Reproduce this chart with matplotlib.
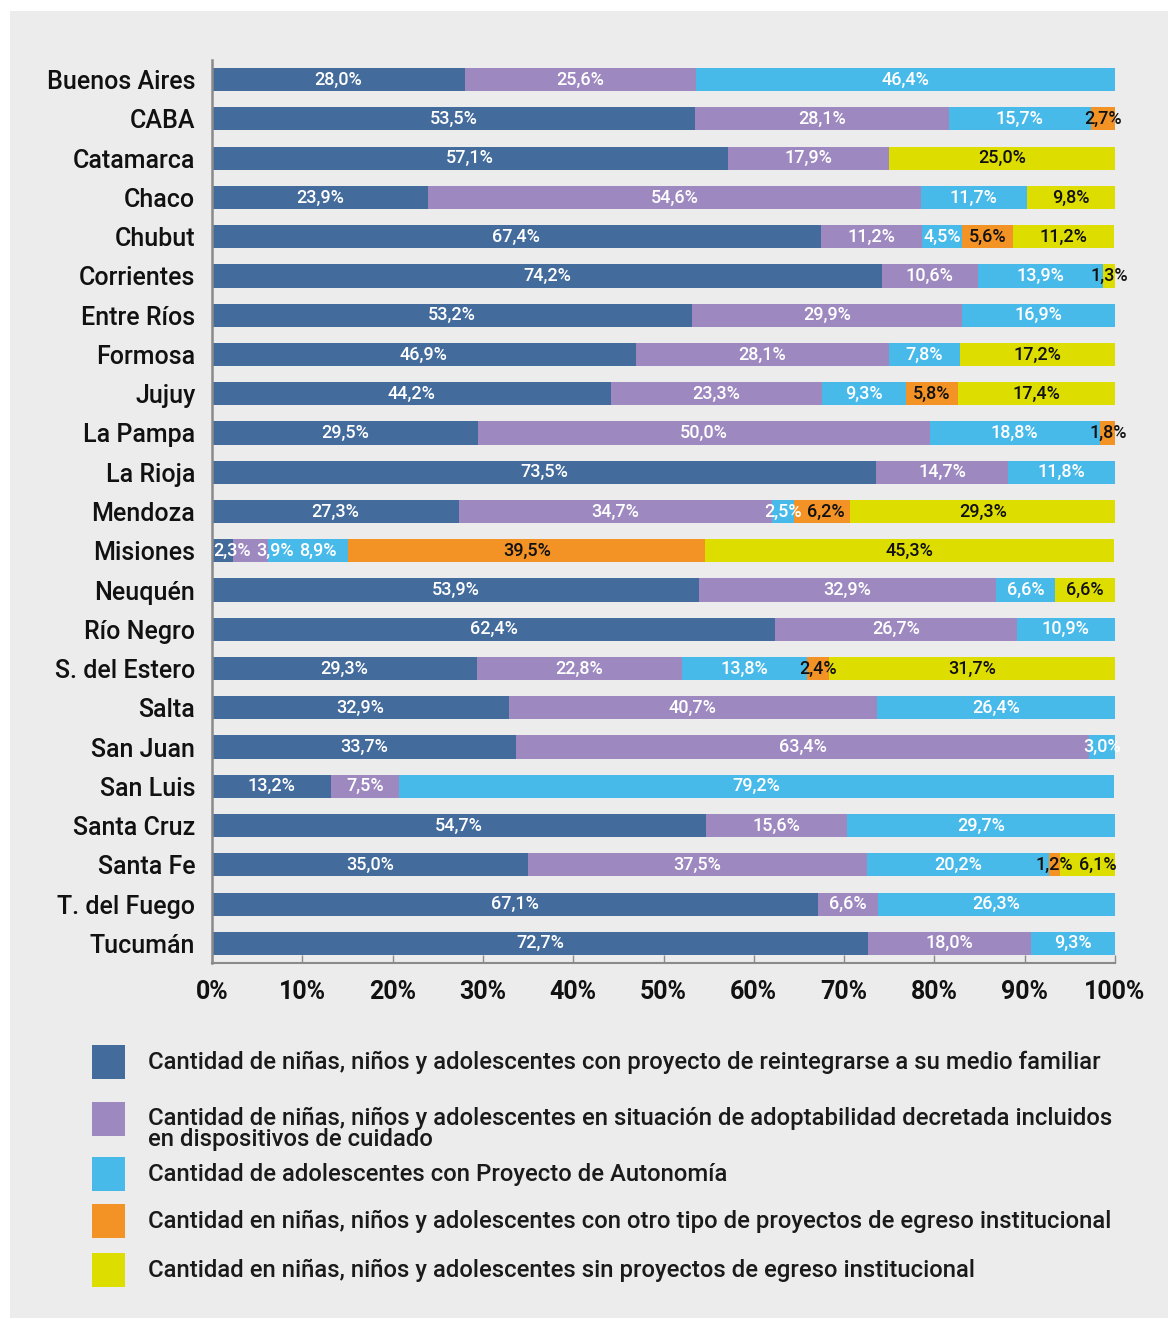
import matplotlib
matplotlib.use("Agg")
import matplotlib.pyplot as plt
import matplotlib.transforms as mtransforms
from matplotlib.patches import Rectangle
import numpy as np

plt.rcParams['font.family'] = ['Roboto', 'DejaVu Sans']

# Datos (porcentajes por provincia)
provincias = ['Buenos Aires', 'CABA', 'Catamarca', 'Chaco', 'Chubut', 'Corrientes',
              'Entre Ríos', 'Formosa', 'Jujuy', 'La Pampa', 'La Rioja', 'Mendoza',
              'Misiones', 'Neuquén', 'Río Negro', 'S. del Estero', 'Salta', 'San Juan',
              'San Luis', 'Santa Cruz', 'Santa Fe', 'T. del Fuego', 'Tucumán']

reintegro = [28.0, 53.5, 57.1, 23.9, 67.4, 74.2, 53.2, 46.9, 44.2, 29.5, 73.5, 27.3,
             2.3, 53.9, 62.4, 29.3, 32.9, 33.7, 13.2, 54.7, 35.0, 67.1, 72.7]
adoptabilidad = [25.6, 28.1, 17.9, 54.6, 11.2, 10.6, 29.9, 28.1, 23.3, 50.0, 14.7, 34.7,
                 3.9, 32.9, 26.7, 22.8, 40.7, 63.4, 7.5, 15.6, 37.5, 6.6, 18.0]
autonomia = [46.4, 15.7, 0, 11.7, 4.5, 13.9, 16.9, 7.8, 9.3, 18.8, 11.8, 2.5,
             8.9, 6.6, 10.9, 13.8, 26.4, 3.0, 79.2, 29.7, 20.2, 26.3, 9.3]
otro_egreso = [0, 2.7, 0, 0, 5.6, 0, 0, 0, 5.8, 1.8, 0, 6.2,
               39.5, 0, 0, 2.4, 0, 0, 0, 0, 1.2, 0, 0]
sin_egreso = [0, 0, 25.0, 9.8, 11.2, 1.3, 0, 17.2, 17.4, 0, 0, 29.3,
              45.3, 6.6, 0, 31.7, 0, 0, 0, 0, 6.1, 0, 0]

series = [reintegro, adoptabilidad, autonomia, otro_egreso, sin_egreso]
colores = ['#436b9c', '#9d89c0', '#48baea', '#f39326', '#dedd00']
color_texto = ['white', 'white', 'white', '#111111', '#111111']

leyenda = ['Cantidad de niñas, niños y adolescentes con proyecto de reintegrarse a su medio familiar',
           'Cantidad de niñas, niños y adolescentes en situación de adoptabilidad decretada incluidos\nen dispositivos de cuidado',
           'Cantidad de adolescentes con Proyecto de Autonomía',
           'Cantidad en niñas, niños y adolescentes con otro tipo de proyectos de egreso institucional',
           'Cantidad en niñas, niños y adolescentes sin proyectos de egreso institucional']

ticks_x = [0, 10, 20, 30, 40, 50, 60, 70, 80, 90, 100]

W, H = 1170, 1319
fig = plt.figure(figsize=(W / 100, H / 100), dpi=100)
fig.patch.set_facecolor('white')
fig.patches.append(Rectangle((10 / W, 1 / H), 1158 / W, 1307 / H, transform=fig.transFigure,
                             facecolor='#ececec', edgecolor='none', zorder=-10))

ax = fig.add_axes([212 / W, 356 / H, 903 / W, 903 / H])
ax.set_facecolor('none')

y = np.arange(len(provincias))
izq = np.zeros(len(provincias))
textos = []
for i, vals in enumerate(series):
    vals = np.array(vals)
    ax.barh(y, vals, left=izq, height=0.59, color=colores[i], zorder=2)
    for j, v in enumerate(vals):
        if v > 0:
            t = ax.text(izq[j] + v / 2, y[j], f'{v:.1f}%'.replace('.', ','),
                        ha='center', va='center', color=color_texto[i],
                        fontsize=13, fontweight='medium', zorder=3)
            textos.append((j, t))
    izq += vals

ax.set_ylim(len(provincias) - 0.5, -0.5)
ax.set_xlim(0, 100)
ax.set_yticks(y)
ax.set_yticklabels(provincias, fontsize=18, fontweight='medium', color='#111111')
# subir un poco las etiquetas de provincia
subir = mtransforms.ScaledTranslation(0, 3 / 72, fig.dpi_scale_trans)
for lbl in ax.get_yticklabels():
    lbl.set_transform(lbl.get_transform() + subir)
ax.set_xticks(ticks_x)
ax.set_xticklabels([f'{t}%' for t in ticks_x], fontsize=18, fontweight='bold', color='#111111')
ax.tick_params(axis='y', length=0, pad=12)
ax.tick_params(axis='x', direction='in', length=6, width=1, color='#8a8a8a', pad=12)
for s in ['top', 'right']:
    ax.spines[s].set_visible(False)
ax.spines['left'].set_color('#8a8a8a')
ax.spines['left'].set_linewidth(1.8)
ax.spines['bottom'].set_color('#8a8a8a')
ax.spines['bottom'].set_linewidth(1.5)

# evitar que las etiquetas chicas se superpongan
fig.canvas.draw()
r = fig.canvas.get_renderer()
inv = ax.transData.inverted()
fin_prev = {}
for j, t in textos:
    bb = t.get_window_extent(r)
    x0 = inv.transform((bb.x0, 0))[0]
    x1 = inv.transform((bb.x1, 0))[0]
    ancho = x1 - x0
    minimo = max(fin_prev.get(j, 0.1), 0.1)
    if x0 < minimo:
        t.set_x(minimo + ancho / 2)
        x1 = minimo + ancho
    fin_prev[j] = x1 + 0.6

# leyenda
filas_y = [1062, 1119, 1174, 1221, 1270]
for i, (lab, fy) in enumerate(zip(leyenda, filas_y)):
    fig.patches.append(Rectangle((92 / W, 1 - (fy + 17) / H), 33 / W, 34 / H,
                                 transform=fig.transFigure, facecolor=colores[i],
                                 edgecolor='none'))
    if '\n' in lab:
        fig.text(148 / W, 1 - (fy - 12) / H, lab, ha='left', va='top', fontsize=17.2,
                 fontweight='medium', color='#1a1a1a', linespacing=0.9)
    else:
        fig.text(148 / W, 1 - fy / H, lab, ha='left', va='center', fontsize=17.2,
                 fontweight='medium', color='#1a1a1a')

fig.savefig('out.png', dpi=100)
